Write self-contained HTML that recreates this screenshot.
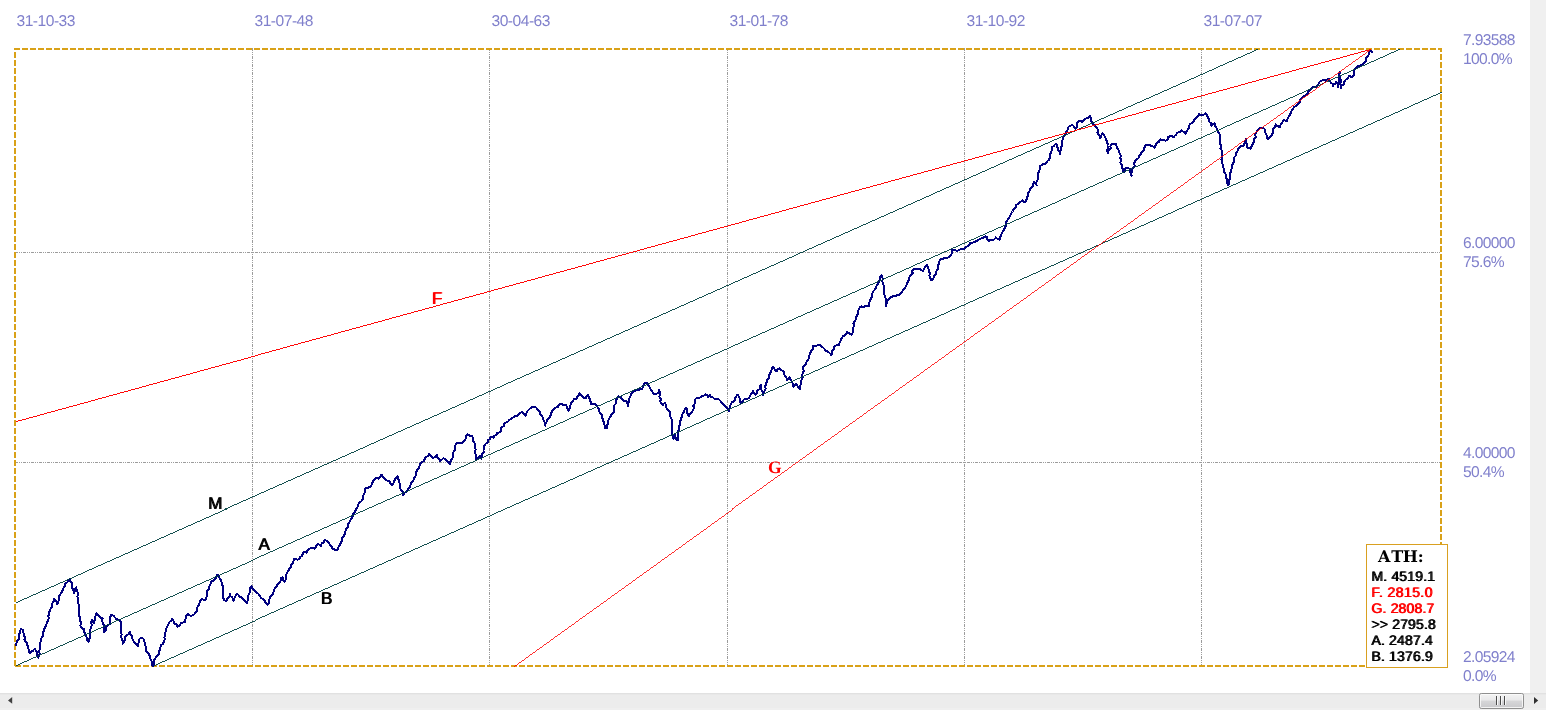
<!DOCTYPE html>
<html><head><meta charset="utf-8"><title>Chart</title>
<style>
html,body{margin:0;padding:0;background:#fff;}
body{width:1546px;height:710px;overflow:hidden;position:relative;font-family:"Liberation Sans",sans-serif;}
svg{position:absolute;left:0;top:0;display:block}
text{text-rendering:geometricPrecision}
.ax{font-family:"Liberation Sans",sans-serif;font-size:15.6px;fill:#8080cc;letter-spacing:-0.66px}
.lb{font-family:"Liberation Sans",sans-serif;font-size:17px;filter:url(#fb)}
.lg{font-family:"Liberation Sans",sans-serif;font-size:14px;filter:url(#fb)}
</style></head><body>
<svg width="1546" height="710" viewBox="0 0 1546 710">
<defs>
<linearGradient id="th" x1="0" y1="0" x2="0" y2="1"><stop offset="0" stop-color="#f4f4f4"/><stop offset="0.44" stop-color="#e9e9ea"/><stop offset="0.5" stop-color="#d6d6d8"/><stop offset="1" stop-color="#c8c8cb"/></linearGradient>
<filter id="fb" x="-5%" y="-5%" width="115%" height="110%"><feOffset dx="1" dy="0" result="o"/><feMerge><feMergeNode in="SourceGraphic"/><feMergeNode in="o"/></feMerge></filter>
</defs>
<rect x="0" y="0" width="1546" height="710" fill="#fff"/>

<rect x="1530" y="0" width="16" height="693" fill="#f0f0f0"/>
<rect x="0" y="693" width="1546" height="17" fill="#ececec"/><rect x="0" y="693" width="1546" height="1" fill="#e1e1e1"/><rect x="0" y="694" width="1546" height="1" fill="#e8e8e8"/><rect x="0" y="708" width="1546" height="2" fill="#efefef"/>
<rect x="1479.5" y="693.5" width="44" height="15" rx="1.8" ry="1.8" fill="url(#th)" stroke="#8f8f8f" stroke-width="1"/>
<rect x="1480.5" y="694.5" width="42" height="13" rx="1" ry="1" fill="none" stroke="#fbfbfb" stroke-opacity="0.8" stroke-width="1"/>
<rect x="1496" y="696" width="1" height="9" fill="#4a4a4a"/><rect x="1497" y="696" width="1" height="9" fill="#f8f8f8"/>
<rect x="1500" y="696" width="1" height="9" fill="#4a4a4a"/><rect x="1501" y="696" width="1" height="9" fill="#f8f8f8"/>
<rect x="1504" y="696" width="1" height="9" fill="#4a4a4a"/><rect x="1505" y="696" width="1" height="9" fill="#f8f8f8"/>
<path d="M1534 697 L1538.2 700.5 L1534 704 Z" fill="#303030"/>
<path d="M12.2 697 L8 700.4 L12.2 703.8 Z" fill="#404040"/>
<g stroke="#9c9c9c" stroke-width="1" stroke-dasharray="3 1 1 1 1 1" shape-rendering="crispEdges" fill="none">
<line x1="252.5" y1="48" x2="252.5" y2="665"/>
<line x1="489.5" y1="48" x2="489.5" y2="665"/>
<line x1="727.5" y1="48" x2="727.5" y2="665"/>
<line x1="964.5" y1="48" x2="964.5" y2="665"/>
<line x1="1201.5" y1="48" x2="1201.5" y2="665"/>
<line x1="15" y1="252.5" x2="1440" y2="252.5"/>
<line x1="15" y1="462.5" x2="1440" y2="462.5"/>
</g>
<g stroke="#d9a118" stroke-width="2" stroke-dasharray="6 2" shape-rendering="crispEdges" fill="none">
<line x1="14" y1="49" x2="1442" y2="49"/>
<line x1="1441" y1="48" x2="1441" y2="667" stroke-dashoffset="2"/>
<line x1="15" y1="48" x2="15" y2="667" stroke-dashoffset="4"/>
<line x1="15" y1="666" x2="1442" y2="666"/>
</g>
<polyline points="15.9,645.4 16.5,643.3 17.1,641.2 18.5,639.5 19.2,637.4 18.8,634.9 20.1,632.9 20.3,630.7 21.0,628.5 22.9,630.2 23.5,632.7 23.8,635.0 24.8,637.1 24.4,639.5 25.3,641.1 26.7,642.5 26.9,644.5 28.3,646.4 28.5,648.7 28.7,651.0 29.9,653.0 31.0,651.6 32.8,651.3 33.6,649.8 35.0,648.8 35.8,650.6 37.0,652.1 36.8,654.3 37.8,656.1 38.4,658.1 38.6,655.8 39.8,653.7 38.7,651.2 40.3,649.1 39.7,646.7 40.4,644.5 40.5,641.9 41.0,639.5 41.9,637.2 43.3,635.0 43.0,632.3 44.2,630.0 44.7,627.6 46.0,625.5 46.7,623.0 48.0,620.9 48.6,618.5 48.4,616.0 48.9,613.6 49.6,611.3 50.6,609.0 51.6,607.1 52.0,604.9 52.5,602.8 53.7,601.0 54.3,598.9 55.4,600.6 56.6,602.1 57.3,604.0 58.4,601.8 58.9,599.4 58.9,596.9 59.9,594.7 61.4,592.6 62.7,590.4 63.5,588.2 64.7,586.1 64.9,583.7 66.8,582.7 68.3,581.1 68.9,579.7 70.0,578.6 69.8,581.1 71.7,583.0 71.7,585.4 72.4,587.3 72.6,589.3 74.1,590.9 74.2,593.0 74.9,591.0 75.0,588.7 76.4,587.0 76.5,588.8 76.8,590.5 77.6,592.1 77.7,594.4 77.4,596.8 78.5,599.0 78.1,601.4 78.5,603.7 78.7,606.1 79.2,608.4 79.3,610.7 79.0,613.2 79.1,615.6 80.1,617.9 80.0,620.4 81.2,622.7 80.4,625.2 81.0,627.6 82.6,628.7 84.4,629.3 84.1,631.5 84.9,633.5 86.2,635.3 86.6,637.4 86.9,639.5 87.5,640.9 88.6,642.0 88.7,639.6 90.3,637.8 90.5,635.3 90.3,632.7 90.4,630.1 90.6,627.6 91.9,625.1 91.2,622.5 92.0,620.0 93.2,621.5 93.7,623.4 94.1,621.3 95.4,619.5 94.8,617.2 95.9,615.3 96.6,613.3 98.0,615.0 99.6,616.6 100.8,618.0 102.6,618.3 102.4,620.6 102.6,622.9 103.8,625.1 103.8,627.4 104.2,629.6 104.2,631.9 105.5,630.4 106.3,628.8 106.4,626.8 107.7,625.1 109.7,624.2 109.5,621.8 110.0,619.5 110.3,617.2 111.1,614.9 113.5,615.8 115.0,617.5 116.5,619.2 118.2,619.5 119.9,619.5 120.6,621.9 121.3,624.4 120.9,626.9 121.2,629.4 121.2,631.9 121.6,634.4 121.2,636.8 121.9,639.1 122.6,641.4 122.9,643.7 124.0,641.7 125.1,639.6 125.1,637.0 126.7,635.2 128.7,634.0 129.7,631.9 130.5,634.2 132.1,636.1 132.3,638.3 133.1,640.2 134.3,642.0 135.5,643.3 136.6,644.7 137.6,646.2 137.5,644.1 138.9,642.5 138.6,640.3 139.8,638.6 141.5,637.9 143.2,638.6 144.1,640.6 144.7,642.7 144.9,644.9 145.8,646.9 146.4,649.0 146.1,651.3 148.0,652.6 149.0,654.7 150.3,656.8 150.6,659.3 151.8,661.5 151.7,664.0 152.9,666.0 154.1,664.2 154.3,662.1 154.2,659.9 155.4,658.1 156.8,656.1 158.8,654.7 159.1,652.1 159.7,649.6 160.5,647.1 161.3,645.0 163.0,643.7 164.0,641.6 164.8,639.5 164.4,637.1 165.0,634.9 165.5,632.7 165.7,630.1 166.6,627.8 167.8,625.6 168.9,623.4 169.6,621.8 171.4,620.9 172.0,619.2 173.6,621.0 174.3,623.4 176.5,624.6 177.7,626.8 179.8,625.6 180.8,623.4 182.9,622.6 185.0,621.7 185.1,619.6 186.3,617.9 186.2,615.8 187.5,614.1 189.2,615.0 190.9,615.8 193.4,615.2 195.1,613.3 196.5,611.6 197.1,609.6 197.3,607.4 198.5,605.6 199.4,603.4 200.3,601.1 201.9,599.2 203.8,599.9 205.8,599.7 206.3,597.6 207.2,595.6 206.9,593.3 207.2,591.1 208.6,589.2 208.6,587.0 210.0,585.5 210.6,583.7 210.8,581.7 212.9,580.9 214.4,579.3 215.8,578.0 216.6,576.4 217.2,574.6 218.9,576.3 219.8,578.5 221.1,580.5 221.7,583.0 222.5,585.5 222.9,588.1 222.8,590.7 223.2,593.3 222.9,596.0 223.5,598.5 224.4,600.3 226.3,600.9 227.1,599.1 228.7,597.6 229.7,595.8 229.9,593.7 230.1,595.8 231.9,597.2 233.0,598.9 233.5,600.9 234.0,598.9 234.9,597.1 235.8,595.3 237.1,593.7 238.6,595.1 239.9,596.6 241.9,597.3 243.1,599.6 245.1,601.3 246.7,603.3 247.5,601.1 248.2,599.0 247.6,596.5 249.0,594.4 249.9,592.3 250.2,590.0 250.3,587.7 251.5,586.5 252.8,588.8 254.7,590.5 256.3,592.5 258.5,593.9 259.9,596.1 261.4,598.2 263.5,599.7 265.0,601.1 265.8,603.2 267.5,604.5 269.0,602.7 268.9,600.2 269.8,598.1 270.7,596.1 272.5,594.6 273.4,592.4 273.8,590.1 274.9,588.1 276.6,586.5 277.3,584.3 279.5,583.0 280.6,581.0 280.9,578.5 282.6,576.9 283.0,579.5 284.3,581.7 285.8,579.6 286.1,577.0 286.4,574.5 287.4,572.2 288.7,570.6 289.3,568.6 291.0,567.4 291.0,565.0 293.2,563.4 293.4,561.2 293.9,559.0 295.7,559.0 297.6,559.7 299.4,559.0 300.3,557.1 302.0,555.7 302.9,553.9 303.5,551.8 305.2,552.0 306.6,553.0 307.5,550.7 309.0,548.7 310.8,548.4 312.7,548.3 314.5,548.7 315.7,547.2 316.4,545.3 317.8,543.9 319.5,544.7 321.0,545.8 321.7,543.5 324.0,542.1 324.6,539.8 326.5,540.8 328.1,542.2 329.4,543.8 330.4,545.5 331.7,547.0 332.7,548.7 334.6,549.3 336.0,550.6 337.9,549.0 338.7,546.6 340.1,544.6 341.1,542.5 342.1,540.3 342.3,537.8 343.9,535.9 344.9,533.8 345.4,531.2 346.1,528.7 348.2,526.8 348.3,524.1 349.7,521.9 350.6,520.0 351.9,518.2 352.7,516.2 353.3,514.1 354.5,512.3 355.4,510.5 356.4,508.7 357.6,507.1 358.1,505.1 359.2,502.7 361.4,501.2 362.9,499.1 363.0,496.9 363.5,494.7 364.8,492.7 364.8,490.5 365.3,488.3 367.5,487.8 369.6,487.1 370.9,485.7 372.1,484.2 372.5,482.3 373.6,480.6 375.0,479.2 376.0,477.5 377.2,478.1 378.4,478.7 380.0,476.7 381.6,474.7 382.7,476.6 384.3,478.1 385.6,479.9 387.4,480.6 389.2,481.1 390.4,483.2 391.6,485.4 393.4,483.5 394.3,481.1 395.2,478.7 396.9,477.7 397.6,475.9 397.5,478.4 399.2,480.5 399.4,483.0 400.1,485.3 400.2,487.9 401.1,490.3 403.0,492.3 403.2,494.9 404.4,492.9 406.5,491.8 407.6,490.2 408.4,488.3 410.1,487.2 410.6,485.0 411.3,482.8 413.1,481.1 413.8,478.9 415.1,476.8 416.2,474.6 416.1,471.9 417.5,469.8 418.7,468.1 419.5,466.3 419.7,464.1 421.1,462.5 422.8,461.7 424.1,460.6 424.8,458.8 426.0,456.9 428.4,456.0 429.4,453.9 430.7,455.1 431.8,456.6 433.0,457.9 435.4,457.0 436.7,454.8 437.3,457.3 439.3,459.0 439.8,461.5 441.6,459.8 443.5,458.2 445.1,459.4 446.8,460.6 448.6,462.3 450.1,464.3 450.4,461.8 451.4,459.6 452.8,457.5 453.2,455.1 453.2,452.5 454.7,450.4 455.3,447.9 455.3,445.4 456.8,443.2 459.1,442.9 461.4,443.2 463.4,441.5 465.1,439.6 466.0,437.9 466.3,435.8 467.8,434.4 469.9,435.9 472.4,435.9 472.6,438.2 472.9,440.4 474.2,442.3 475.1,444.7 475.1,447.2 475.7,449.7 474.8,452.3 475.9,454.7 476.3,457.2 476.0,459.7 477.1,458.3 478.9,457.5 479.7,455.7 480.2,457.5 481.5,458.8 481.6,456.6 481.9,454.4 483.6,452.5 483.5,450.3 484.1,448.2 484.3,446.0 485.6,443.7 487.9,442.3 488.2,440.1 490.0,438.8 490.7,436.8 492.1,437.1 493.4,437.7 494.1,435.8 496.4,435.1 497.1,433.2 498.5,432.9 499.8,432.2 501.2,430.6 501.1,428.3 502.6,426.8 504.3,425.6 504.5,423.3 506.3,422.2 508.1,421.6 509.3,420.1 510.8,419.1 512.2,417.8 513.9,417.0 515.4,415.8 517.0,416.0 518.2,414.9 519.5,413.7 520.9,412.5 522.7,412.1 524.1,414.0 525.5,415.8 526.3,413.5 527.4,411.2 529.1,409.4 530.7,408.0 532.4,406.9 534.6,406.6 536.2,407.5 537.3,408.9 538.3,410.3 539.8,412.0 540.4,414.2 542.0,415.8 543.0,417.7 543.3,419.8 544.5,421.6 544.9,423.7 545.3,425.8 545.6,423.4 546.9,421.5 547.6,419.3 549.3,417.6 550.5,415.6 551.2,413.4 552.0,411.2 552.9,409.6 554.4,408.7 555.7,407.5 557.9,406.9 559.0,404.6 561.2,403.9 563.4,404.9 565.8,404.8 566.8,406.7 567.6,408.7 568.5,410.6 569.7,408.9 569.7,406.7 570.6,404.9 571.3,403.0 572.9,401.1 574.0,398.9 575.5,399.4 576.7,398.4 577.4,396.5 579.0,395.0 579.5,392.9 580.5,394.6 581.8,396.1 583.2,397.5 584.6,397.8 585.9,398.4 586.6,396.4 587.7,394.7 589.1,396.8 589.7,399.1 590.5,401.4 590.5,403.9 592.8,404.3 595.1,403.9 595.5,404.1 596.8,405.7 597.8,407.5 598.9,409.3 599.2,411.4 600.4,413.6 602.4,415.1 602.3,417.8 603.0,420.3 604.1,422.7 604.6,425.3 604.6,427.9 606.8,427.9 607.1,425.5 607.9,423.3 608.1,420.9 609.2,418.7 610.2,417.1 611.0,415.4 612.3,414.1 613.6,412.2 614.1,410.0 614.0,407.7 614.1,405.5 615.8,403.6 615.6,401.3 616.4,399.5 617.6,397.9 618.9,396.4 620.8,397.2 621.8,398.9 623.0,400.4 624.8,400.8 626.6,401.3 627.3,403.6 628.1,405.9 628.1,403.8 629.1,401.9 628.8,399.6 629.7,397.7 630.6,395.8 631.2,393.9 632.7,392.7 633.9,391.3 636.0,390.1 638.5,390.3 640.2,389.1 642.2,389.4 642.7,387.2 643.4,385.0 644.6,383.0 647.1,382.5 648.1,384.6 649.3,386.5 650.4,388.5 651.3,390.6 652.7,392.3 654.1,394.0 656.0,393.9 657.7,393.1 659.0,392.0 659.2,390.3 659.7,392.4 660.1,394.6 659.3,396.9 661.0,398.8 660.3,401.1 661.0,403.2 662.0,404.3 663.2,405.0 663.8,403.5 665.4,403.2 665.7,405.5 666.4,407.7 667.8,409.6 668.8,411.1 670.2,412.3 670.3,414.9 670.6,417.4 672.1,419.8 672.0,422.4 672.1,424.8 672.4,427.1 672.0,429.5 672.3,431.9 672.4,434.2 673.0,436.6 673.3,438.9 674.8,436.8 675.1,434.3 675.2,436.2 675.7,438.0 676.4,439.8 677.9,439.8 677.7,437.3 677.7,434.8 678.1,432.3 678.7,429.8 678.6,427.3 680.0,424.9 679.7,422.4 680.5,420.4 681.3,418.3 682.0,416.2 682.5,414.1 683.8,412.1 684.6,409.8 685.6,407.7 687.2,409.5 686.8,412.0 687.7,414.1 688.9,416.0 690.2,414.2 691.6,412.4 692.9,410.5 693.7,408.2 693.4,405.6 695.0,403.4 694.8,400.9 695.8,398.6 697.7,397.5 699.8,397.7 701.4,396.3 703.7,395.8 705.3,394.4 707.0,395.2 708.1,396.8 709.3,395.9 709.9,394.6 710.9,396.6 713.0,397.5 714.5,399.0 716.8,399.1 719.1,399.5 720.7,401.3 721.9,403.4 723.7,405.0 724.8,406.3 726.4,406.8 727.1,408.4 728.0,410.0 729.1,411.4 729.2,408.9 730.0,406.6 730.8,404.4 731.9,402.2 733.5,401.6 734.6,400.4 735.0,398.5 736.2,396.8 736.8,394.9 738.3,395.3 738.7,396.8 740.0,398.7 740.3,401.0 740.5,403.2 742.4,401.5 743.8,399.5 745.7,399.2 747.6,398.6 749.3,397.7 750.2,395.4 751.7,393.4 752.9,391.3 754.3,393.1 755.7,394.9 756.8,392.9 757.4,390.6 759.6,389.2 759.7,386.7 761.2,384.9 760.9,387.5 761.4,390.0 763.3,392.3 763.0,394.9 763.6,392.7 764.7,390.8 765.6,388.7 765.4,386.3 765.7,384.1 766.7,382.1 767.2,379.7 769.2,377.8 769.0,375.1 770.3,373.0 771.4,371.1 771.6,368.8 773.1,367.1 774.3,368.5 775.0,370.3 776.7,371.1 777.7,369.3 779.5,368.4 780.7,370.0 782.6,370.8 784.1,372.0 784.2,374.3 785.1,376.3 786.5,378.1 786.8,380.3 788.6,379.3 789.6,377.5 790.5,379.8 792.1,381.8 793.0,384.1 793.2,386.7 794.6,385.3 796.0,383.9 797.3,385.7 798.7,387.4 799.6,389.4 799.6,386.9 800.6,384.6 801.4,382.3 801.5,379.9 802.7,377.7 801.7,375.1 803.2,372.9 803.7,370.6 802.9,368.1 803.9,365.8 805.8,363.9 806.7,361.6 808.3,359.5 809.0,357.0 809.5,354.7 810.5,352.5 811.4,350.3 813.2,348.5 813.3,346.0 815.7,345.8 818.0,345.1 820.4,345.0 822.2,346.8 824.1,348.5 825.5,350.6 827.8,351.5 829.6,353.0 831.1,354.9 832.4,352.9 832.4,350.3 834.2,348.5 834.4,346.0 836.5,345.4 838.7,345.5 839.2,343.5 840.4,341.7 840.7,339.6 842.0,337.9 843.1,336.2 845.1,335.2 846.3,333.6 847.1,331.6 848.3,333.0 850.0,333.8 851.6,334.6 852.8,332.6 853.3,330.4 853.2,328.0 854.0,325.9 853.5,323.4 854.7,321.4 855.9,319.2 856.3,316.7 857.6,314.6 858.3,312.2 858.5,309.7 859.7,307.5 861.2,306.4 863.3,307.3 864.8,306.2 866.7,305.6 868.6,306.2 869.2,304.1 869.6,301.9 870.2,299.8 871.5,297.8 872.5,295.8 872.4,293.5 873.3,291.2 875.1,289.4 876.2,287.2 876.8,285.4 878.0,283.8 878.8,282.1 879.5,279.8 880.0,277.4 881.3,275.3 882.3,277.2 882.8,279.2 882.2,281.5 883.3,283.4 883.6,285.9 884.3,288.3 883.5,290.9 883.7,293.4 884.8,295.8 885.6,298.2 885.8,300.7 886.3,303.1 885.9,305.7 886.8,303.5 887.5,301.2 888.8,299.3 890.2,297.4 892.6,296.4 895.2,296.1 897.0,295.3 898.9,294.9 900.3,293.5 901.9,292.2 902.7,290.3 904.0,288.7 905.4,287.2 906.4,285.3 907.1,283.3 908.0,281.4 909.2,279.6 909.5,277.1 910.7,275.1 912.6,273.4 912.3,270.6 913.8,268.7 915.6,268.7 917.5,268.9 919.3,268.7 920.9,270.2 923.1,270.7 924.0,268.6 925.4,266.8 927.0,265.1 928.0,266.8 928.5,268.8 929.0,270.7 929.7,273.1 929.5,275.7 930.3,278.1 931.5,280.4 933.4,278.8 933.7,276.0 935.8,274.5 935.7,272.0 937.4,270.0 938.3,267.7 938.3,265.2 939.1,263.0 939.6,260.6 940.9,259.0 942.9,258.7 944.7,258.0 946.6,258.1 948.3,257.4 949.8,256.3 951.2,254.4 952.2,252.3 952.3,249.9 954.9,250.0 957.4,250.9 959.3,249.7 961.5,249.2 963.7,249.2 965.3,247.8 967.1,246.5 969.0,245.3 970.1,243.3 971.9,243.1 973.5,242.4 975.1,241.6 977.4,240.9 979.3,239.3 981.5,238.3 983.4,237.5 985.3,236.5 987.1,237.4 987.5,239.7 989.1,240.8 991.0,239.6 993.5,239.8 995.4,238.3 995.6,237.4 997.4,238.8 999.5,239.7 1000.2,237.3 1001.0,235.0 1002.1,232.8 1003.5,230.7 1004.6,228.5 1005.6,226.3 1005.6,223.7 1006.5,221.4 1008.0,219.4 1009.2,217.4 1010.4,215.5 1011.2,213.4 1012.5,211.5 1013.6,209.3 1015.5,207.7 1016.1,205.2 1018.2,203.7 1019.5,202.3 1021.2,201.4 1022.7,200.3 1023.3,201.9 1024.9,202.5 1026.0,200.3 1027.3,198.2 1027.6,195.8 1028.1,193.4 1029.4,191.3 1030.2,188.8 1032.3,187.1 1033.1,184.6 1033.9,182.2 1035.5,183.5 1036.6,185.2 1036.2,182.7 1037.3,180.5 1038.0,178.2 1038.0,175.8 1038.1,173.5 1039.1,171.2 1039.9,168.9 1039.6,166.5 1041.3,165.2 1043.0,164.0 1045.2,163.8 1046.3,162.3 1047.6,161.0 1049.0,159.7 1049.9,157.3 1049.7,154.6 1051.3,152.4 1051.8,149.9 1052.0,147.3 1053.5,146.2 1054.7,144.7 1056.5,143.9 1056.5,146.2 1058.1,147.9 1058.1,150.2 1059.6,151.9 1059.9,154.1 1059.9,151.8 1061.3,149.7 1061.0,147.3 1062.5,145.2 1062.3,142.8 1062.2,140.5 1063.2,138.3 1063.7,136.1 1064.9,134.2 1066.1,132.3 1067.5,130.5 1067.7,128.2 1068.9,126.6 1070.6,125.8 1072.2,124.8 1074.1,126.5 1075.2,128.8 1076.8,127.1 1076.6,124.5 1077.4,122.4 1079.0,120.7 1081.0,120.7 1082.4,122.1 1084.0,120.2 1085.8,118.5 1087.6,118.1 1089.1,117.2 1090.3,115.8 1090.7,118.1 1091.0,120.5 1092.5,122.5 1093.5,124.8 1095.7,126.1 1097.0,128.2 1098.1,130.1 1097.5,132.4 1098.4,134.4 1100.1,136.1 1100.0,138.3 1101.1,136.8 1101.6,134.9 1102.7,133.3 1104.0,135.2 1105.1,137.2 1106.0,139.4 1106.9,141.6 1107.6,143.8 1107.5,146.1 1107.8,148.4 1107.2,150.9 1108.3,153.0 1108.6,150.5 1110.7,148.7 1110.4,146.0 1111.7,143.9 1114.0,143.7 1116.2,143.9 1116.6,146.4 1117.4,148.6 1118.9,150.7 1119.6,153.0 1120.7,155.3 1120.4,157.9 1120.9,160.3 1120.4,162.8 1121.9,165.1 1121.8,167.6 1122.9,169.0 1123.1,170.9 1124.5,172.1 1124.7,169.6 1126.3,167.6 1128.0,168.0 1129.7,168.7 1129.8,171.1 1130.5,173.3 1131.5,175.5 1131.4,172.9 1132.0,170.4 1132.7,168.0 1134.7,165.9 1134.3,163.2 1135.3,160.8 1137.0,159.4 1138.6,157.9 1139.4,155.6 1141.0,154.1 1141.8,151.7 1143.9,149.9 1144.5,147.4 1145.5,145.1 1147.8,144.7 1150.0,145.1 1151.3,146.3 1153.2,146.6 1154.5,147.8 1155.6,145.5 1156.6,143.2 1159.0,141.7 1160.1,139.4 1161.9,140.5 1163.9,140.4 1165.8,140.6 1167.8,139.6 1168.3,137.1 1170.3,136.1 1172.1,136.2 1173.6,137.2 1174.7,135.7 1176.4,134.6 1177.0,132.7 1179.6,132.2 1181.5,130.4 1183.0,131.4 1184.5,132.4 1185.6,133.8 1186.5,131.7 1187.6,129.8 1189.2,128.0 1189.1,125.5 1190.5,123.7 1192.5,122.6 1193.9,120.7 1194.5,119.3 1196.3,117.7 1197.9,116.0 1199.0,113.9 1200.5,115.1 1202.4,115.5 1204.0,114.5 1205.3,113.2 1206.4,114.6 1207.3,116.1 1208.0,117.7 1209.1,119.6 1209.3,121.8 1211.2,123.4 1211.4,125.6 1212.8,124.1 1214.8,123.4 1215.1,125.8 1216.5,127.8 1217.5,129.9 1217.5,132.4 1219.1,133.0 1219.7,134.6 1219.9,136.9 1220.5,139.1 1219.8,141.5 1220.2,143.7 1221.1,145.9 1220.4,148.2 1221.7,150.4 1222.2,152.6 1222.3,154.9 1221.7,157.2 1221.5,159.5 1222.0,161.7 1222.5,163.9 1223.3,166.1 1223.5,168.4 1223.8,170.7 1224.8,173.0 1226.1,175.2 1226.4,177.8 1226.8,180.3 1227.2,182.9 1228.3,185.3 1228.9,183.1 1228.5,180.7 1230.0,178.6 1229.5,176.2 1230.3,174.1 1230.6,171.8 1231.1,169.7 1232.3,167.9 1232.1,165.6 1232.9,163.6 1233.9,161.7 1234.1,159.3 1234.5,157.1 1236.2,155.1 1236.2,152.7 1237.4,151.1 1238.2,149.1 1239.4,147.5 1240.7,145.9 1242.6,146.1 1244.1,144.8 1244.7,142.9 1244.9,140.9 1245.9,139.1 1246.0,141.5 1246.8,143.7 1246.8,146.1 1248.1,148.2 1249.5,147.8 1250.8,148.6 1251.6,146.2 1253.0,144.0 1253.9,141.7 1254.2,139.1 1255.7,137.1 1255.2,134.3 1256.4,132.2 1257.6,130.1 1259.6,128.5 1262.1,127.9 1264.1,128.6 1265.5,130.1 1265.3,132.5 1266.5,134.6 1266.5,137.0 1267.7,139.1 1269.3,137.3 1271.1,135.8 1272.5,133.8 1272.8,131.2 1273.4,128.9 1275.1,126.9 1275.6,124.5 1277.5,126.3 1280.1,126.8 1280.7,124.3 1282.5,122.3 1283.5,120.0 1285.2,120.5 1286.9,120.7 1287.6,118.4 1289.0,116.4 1290.3,114.4 1290.9,112.1 1292.1,110.2 1293.3,108.3 1294.8,106.5 1296.6,105.5 1298.2,104.2 1299.5,102.7 1300.1,100.6 1300.9,98.7 1302.7,97.5 1304.0,96.1 1305.9,95.5 1307.2,94.1 1308.2,92.1 1309.8,90.5 1311.0,88.7 1312.8,87.3 1315.2,87.2 1317.3,86.2 1318.5,84.0 1319.6,81.7 1321.3,80.6 1323.2,80.3 1325.2,80.6 1326.8,79.6 1328.6,78.8 1329.7,80.7 1330.7,82.6 1332.5,84.0 1333.1,86.2 1333.8,84.4 1335.6,83.4 1336.5,81.7 1337.2,83.5 1338.0,85.3 1338.3,87.3 1338.2,85.0 1339.5,82.9 1338.6,80.5 1339.3,78.3 1339.1,76.0 1339.5,73.7 1339.8,71.5 1339.4,74.0 1339.4,76.4 1340.5,78.7 1341.0,81.1 1340.3,83.6 1341.3,86.0 1341.0,88.4 1341.4,85.8 1343.8,84.2 1344.3,81.7 1345.7,79.8 1347.8,78.3 1348.9,76.1 1350.6,76.5 1352.2,77.2 1353.6,75.2 1353.8,72.7 1354.2,70.3 1355.6,68.2 1357.5,66.4 1360.1,65.9 1361.6,64.8 1363.2,63.8 1364.6,62.5 1366.3,60.6 1366.3,57.7 1368.0,55.8 1368.9,54.0 1369.3,51.9 1370.3,50.1 1371.2,51.3 1372.1,52.4" fill="none" stroke="#000080" stroke-width="2" stroke-linejoin="round" stroke-linecap="round" shape-rendering="crispEdges"/>
<g stroke="#004040" stroke-width="1" shape-rendering="crispEdges" fill="none">
<line x1="15.5" y1="602.5" x2="1257.8" y2="49.4" stroke-width="0.92"/>
<line x1="15.5" y1="665.5" x2="1399.6" y2="49.4" stroke-width="0.92"/>
<line x1="153.5" y1="665.5" x2="1441.8" y2="92.3" stroke-width="0.92"/>
</g>
<g stroke="#ff0000" stroke-width="1" shape-rendering="crispEdges" fill="none">
<line x1="15.5" y1="421.5" x2="1370.5" y2="49.5" stroke-width="0.97"/>
<line x1="513.5" y1="666.5" x2="1370.8" y2="49.5" stroke-width="0.82"/>
</g>
<text class="ax" x="16.5" y="26" style="letter-spacing:-0.5px">31-10-33</text>
<text class="ax" x="254.5" y="26" style="letter-spacing:-0.5px">31-07-48</text>
<text class="ax" x="491.5" y="26" style="letter-spacing:-0.5px">30-04-63</text>
<text class="ax" x="729.5" y="26" style="letter-spacing:-0.5px">31-01-78</text>
<text class="ax" x="966.5" y="26" style="letter-spacing:-0.5px">31-10-92</text>
<text class="ax" x="1203.5" y="26" style="letter-spacing:-0.5px">31-07-07</text>
<text class="ax" x="1463" y="45">7.93588</text><text class="ax" x="1463" y="64">100.0%</text>
<text class="ax" x="1463" y="248">6.00000</text><text class="ax" x="1463" y="267">75.6%</text>
<text class="ax" x="1463" y="458">4.00000</text><text class="ax" x="1463" y="477">50.4%</text>
<text class="ax" x="1463" y="662">2.05924</text><text class="ax" x="1463" y="681">0.0%</text>
<text class="lb" x="207.7" y="508.8" fill="#000">M</text>
<text class="lb" x="258" y="549.7" fill="#000">A</text>
<text class="lb" x="320.5" y="604" fill="#000">B</text>
<text class="lb" x="431.5" y="304" fill="#ff0000">F</text>
<text x="768" y="473" fill="#ff0000" style="font-family:'Liberation Serif',serif;font-weight:bold;font-size:17.5px">G</text>
<rect x="1366.5" y="544.5" width="81" height="123" fill="#fff" stroke="#d9a020" stroke-width="1"/>
<text x="1378 1391.2 1402.8 1417.8" y="562" fill="#000" style="font-family:'DejaVu Serif','Liberation Serif',serif;font-weight:bold;font-size:16px">ATH:</text>
<text class="lg" x="1371" y="581" fill="#000" letter-spacing="0.16">M. 4519.1</text>
<text class="lg" x="1371" y="597" fill="#ff0000" letter-spacing="0.42">F. 2815.0</text>
<text class="lg" x="1371" y="613" fill="#ff0000" letter-spacing="0.16">G. 2808.7</text>
<text class="lg" x="1371" y="629" fill="#000" letter-spacing="0.16">&gt;&gt; 2795.8</text>
<text class="lg" x="1371" y="645" fill="#000" letter-spacing="0.16">A. 2487.4</text>
<text class="lg" x="1371" y="661" fill="#000" letter-spacing="0.16">B. 1376.9</text>
</svg></body></html>
